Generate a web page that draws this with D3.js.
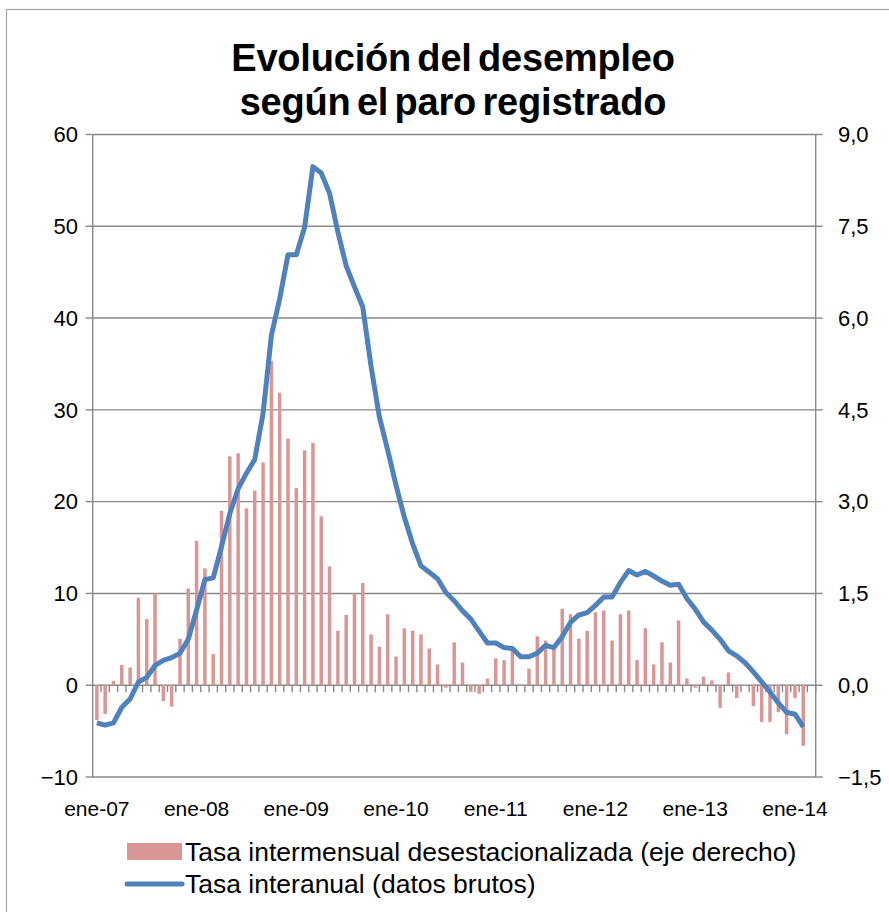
<!DOCTYPE html>
<html><head><meta charset="utf-8">
<script src="https://cdn.jsdelivr.net/npm/d3@7"></script>
<style>body{margin:0;background:#fff}svg{display:block}text{font-family:"Liberation Sans",Arial,Helvetica,sans-serif}</style>
</head><body><svg id="c" width="889" height="912"></svg>
<script>
// ---- data ----
const years = ["07","08","09","10","11","12","13","14"];
const monthNames = ["ene","feb","mar","abr","may","jun","jul","ago","sep","oct","nov","dic"];
// Jan 2007 .. Mar 2014 (87 categories; last one empty)
const categories = [];
years.forEach(y => monthNames.forEach((m, k) => { if (y !== "14" || k < 3) categories.push(m + "-" + y); }));
const tickLabels = ["ene-07","ene-08","ene-09","ene-10","ene-11","ene-12","ene-13","ene-14"];
const leftTicks = [-10, 0, 10, 20, 30, 40, 50, 60];
const rightTicks = [-1.5, 0, 1.5, 3, 4.5, 6, 7.5, 9];
// Tasa intermensual desestacionalizada (right axis)
const intermensual = [
 -0.57,-0.47,0.07,0.33,0.29,1.43,1.08,1.50,-0.26,-0.35,0.76,1.58,
 2.36,1.91,0.51,2.85,3.74,3.79,2.89,3.18,3.64,5.30,4.78,4.03,
 3.22,3.84,3.96,2.76,1.94,0.89,1.15,1.50,1.67,0.83,0.63,1.16,
 0.47,0.93,0.89,0.83,0.60,0.34,-0.04,0.70,0.37,-0.11,-0.14,0.11,
 0.44,0.41,0.57,0.01,0.27,0.80,0.73,0.60,1.25,1.16,0.76,0.89,
 1.19,1.22,0.73,1.16,1.22,0.41,0.93,0.34,0.70,0.37,1.06,0.11,
 -0.04,0.14,0.08,-0.37,0.21,-0.21,-0.01,-0.34,-0.60,-0.60,-0.44,-0.80,
 -0.21,-0.99,null];
// Tasa interanual (left axis)
const interanual = [
 -4.1,-4.35,-4.1,-2.4,-1.5,0.35,0.85,2.15,2.7,3.0,3.5,5.0,
 8.2,11.5,11.7,15.1,18.7,21.4,23.1,24.6,29.6,38.1,42.1,46.9,
 46.9,49.9,56.5,55.8,53.6,49.4,45.7,43.4,41.2,34.7,29.2,25.6,
 21.8,18.3,15.4,13.0,12.3,11.6,10.1,9.2,8.1,7.2,5.9,4.6,
 4.6,4.1,4.0,3.1,3.1,3.5,4.35,4.1,5.3,6.85,7.65,7.9,
 8.7,9.6,9.6,11.2,12.5,12.0,12.4,11.9,11.35,10.9,11.0,9.45,
 8.3,6.9,6.0,5.0,3.75,3.2,2.45,1.45,0.36,-0.73,-1.93,-2.95,
 -3.16,-4.55,null];
const seriesNames = ["Tasa intermensual desestacionalizada (eje derecho)","Tasa interanual (datos brutos)"];
const titleLines = ["Evolución del desempleo","según el paro registrado"];

// ---- chart ----
const svg = d3.select("#c");
const L = 92.7, R = 815.7, T = 134.5, B = 777;
const grey = "#888888", barColor = "#d99694", lineColor = "#4f81bd";

svg.append("rect").attr("x",6.5).attr("y",9.5).attr("width",900).attr("height",920)
  .attr("fill","none").attr("stroke","#a6a6a6").attr("stroke-width",1.2);

const x = d3.scaleBand().domain(d3.range(categories.length)).range([L, R]).paddingInner(0.58).paddingOuter(0.29);
const step = x.step();
const cx = i => L + (i + 0.5) * step;
const yL = d3.scaleLinear().domain([-10, 60]).range([B, T]);
const yR = d3.scaleLinear().domain([-1.5, 9]).range([B, T]);

// title
svg.append("g").selectAll("text").data(titleLines).join("text")
  .attr("x", 453).attr("y", (d,i) => 71 + i*44).attr("text-anchor","middle")
  .attr("font-size", 38).attr("font-weight","bold").attr("letter-spacing",-0.2).attr("word-spacing",-4)
  .attr("fill","#000").text(d => d);

// gridlines
svg.append("g").selectAll("line").data(leftTicks).join("line")
  .attr("x1", L).attr("x2", R).attr("y1", d => yL(d)).attr("y2", d => yL(d))
  .attr("stroke", grey).attr("stroke-width", 1.4);

// bars
const zero = yR(0);
svg.append("g").selectAll("rect").data(intermensual.map((v,i)=>({v,i})).filter(d => d.v !== null)).join("rect")
  .attr("x", d => x(d.i)).attr("width", x.bandwidth())
  .attr("y", d => Math.min(yR(d.v), zero)).attr("height", d => Math.abs(yR(d.v) - zero))
  .attr("fill", barColor);

// axis lines
svg.append("line").attr("x1",L).attr("x2",L).attr("y1",T).attr("y2",B).attr("stroke",grey).attr("stroke-width",1.4);
svg.append("line").attr("x1",R).attr("x2",R).attr("y1",T).attr("y2",B).attr("stroke",grey).attr("stroke-width",1.4);

// month tick marks on zero line
svg.append("g").selectAll("line").data(d3.range(1, categories.length + 1)).join("line")
  .attr("x1", i => L + i*step).attr("x2", i => L + i*step)
  .attr("y1", yL(0)).attr("y2", yL(0) + 7).attr("stroke", grey).attr("stroke-width", 1.4);

// left axis
const gl = svg.append("g");
gl.selectAll("line").data(leftTicks).join("line")
  .attr("x1", L - 7).attr("x2", L).attr("y1", d => yL(d)).attr("y2", d => yL(d)).attr("stroke", grey).attr("stroke-width",1.4);
gl.selectAll("text").data(leftTicks).join("text")
  .attr("x", 78).attr("y", d => yL(d)).attr("dy","0.35em").attr("text-anchor","end")
  .attr("font-size", 22).text(d => d3.format("d")(d));
// right axis
const fr = d => d3.format(".1f")(d).replace(".", ",");
const gr = svg.append("g");
gr.selectAll("line").data(rightTicks).join("line")
  .attr("x1", R).attr("x2", R + 7).attr("y1", d => yR(d)).attr("y2", d => yR(d)).attr("stroke", grey).attr("stroke-width",1.4);
gr.selectAll("text").data(rightTicks).join("text")
  .attr("x", 838).attr("y", d => yR(d)).attr("dy","0.35em").attr("text-anchor","start")
  .attr("font-size", 22).text(fr);

// x labels
svg.append("g").selectAll("text").data(tickLabels).join("text")
  .attr("x", d => cx(categories.indexOf(d))).attr("y", 816).attr("text-anchor","middle")
  .attr("font-size", 21).text(d => d);

// line
const line = d3.line().defined(d => d !== null).x((d,i) => cx(i)).y(d => yL(d));
svg.append("path").datum(interanual).attr("d", line).attr("fill","none")
  .attr("stroke", lineColor).attr("stroke-width", 5).attr("stroke-linejoin","round");

// legend
const lg = svg.append("g");
lg.append("rect").attr("x",127).attr("y",843).attr("width",55).attr("height",17).attr("fill",barColor);
lg.append("line").attr("x1",127).attr("x2",182).attr("y1",884).attr("y2",884).attr("stroke",lineColor).attr("stroke-width",5).attr("stroke-linecap","round");
lg.selectAll("text").data(seriesNames).join("text")
  .attr("x",185).attr("y",(d,i)=>852 + i*32).attr("dy","0.35em").attr("font-size",26.5).text(d=>d);
</script></body></html>
